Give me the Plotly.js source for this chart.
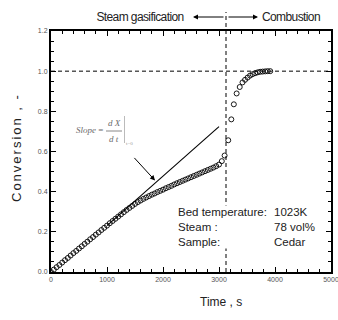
<!DOCTYPE html>
<html>
<head>
<meta charset="utf-8">
<script src="https://cdn.plot.ly/plotly-3.0.1.min.js"></script>
<style>
html,body{margin:0;padding:0;background:#fff;}
#chart{width:338px;height:320px;}
</style>
</head>
<body>
<div id="chart"></div>
<script>
// ---- data ----
const gasTime = [0,50,100,150,200,250,300,350,400,450,500,550,600,650,700,750,800,850,900,950,
  1000,1050,1100,1150,1200,1250,1300,1350,1400,1450,1500,1550,1600,1650,1700,1750,1800,1850,1900,1950,
  2000,2050,2100,2150,2200,2250,2300,2350,2400,2450,2500,2550,2600,2650,2700,2750,2800,2850,2900,2950,
  3000,3050,3100];
const gasConv = [0.000,0.012,0.024,0.035,0.047,0.059,0.070,0.082,0.094,0.105,0.117,0.128,0.140,0.151,0.163,0.174,0.186,0.197,0.209,0.220,
  0.231,0.243,0.254,0.265,0.276,0.287,0.298,0.309,0.319,0.329,0.339,0.348,0.356,0.364,0.371,0.378,0.385,0.391,0.398,0.404,
  0.410,0.417,0.423,0.429,0.436,0.442,0.448,0.454,0.460,0.466,0.472,0.478,0.484,0.490,0.496,0.502,0.508,0.514,0.520,0.527,
  0.535,0.552,0.580];
const combTime = [3165,3220,3265,3315,3370,3420,3465,3510,3555,3600,3645,3690,3735,3780,3825,3870,3915];
const combConv = [0.656,0.760,0.835,0.889,0.921,0.944,0.957,0.968,0.978,0.985,0.990,0.994,0.997,0.998,0.999,1.000,1.000];
const tangentTime = [1000,3000];
const tangentConv = [0.231,0.724];
const switchTime = 3125;      // steam -> combustion switch
const fullConv = 1.0;
const xMax = 5000, yMax = 1.2;
const xTicks = [0,1000,2000,3000,4000,5000];
const yTicks = [0.0,0.2,0.4,0.6,0.8,1.0,1.2];
const conditionLabels = ['Bed temperature:','Steam :','Sample:'];
const conditionValues = ['1023K','78 vol%','Cedar'];

// ---- layout helpers (pixel -> paper) ----
const L=51, R=7, T=31, B=48, W=338, H=320;
const pw=W-L-R, ph=H-T-B;
const px = x => (x-L)/pw;
const py = y => (H-B-y)/ph;

const txt='#222', gray='#6a6a6a';
const sans='"Liberation Sans", Arial, sans-serif';
const serif='"Liberation Serif", "Times New Roman", serif';

const traces = [
  {x: tangentTime, y: tangentConv, mode:'lines', line:{color:'#000', width:1.1}, hoverinfo:'skip'},
  {x: gasTime.concat(combTime), y: gasConv.concat(combConv), mode:'markers',
   marker:{symbol:'circle-open', size:5, color:'#000', line:{width:0.9, color:'#000'}}}
];

const axisCommon = {
  showline:true, linewidth:2, linecolor:'#000', mirror:'ticks',
  ticks:'inside', ticklen:5, tickwidth:1, tickcolor:'#000',
  showgrid:false, zeroline:false, ticklabeloverflow:'allow',
  tickfont:{family:sans, size:7, color:'#555'}
};

function note(x, y, text, font, extra) {
  return Object.assign({xref:'paper', yref:'paper', x:px(x), y:py(y), text:text, showarrow:false,
    xanchor:'center', yanchor:'middle', font:font}, extra||{});
}

const layout = {
  width:W, height:H, margin:{l:L, r:R, t:T, b:B},
  paper_bgcolor:'#fff', plot_bgcolor:'#fff', showlegend:false,
  xaxis: Object.assign({}, axisCommon, {range:[0,xMax], tickvals:xTicks, ticktext:xTicks.map(String),
    minor:{dtick:200, ticklen:3, tickcolor:'#000', ticks:'inside'}}),
  yaxis: Object.assign({}, axisCommon, {range:[0,yMax], tickvals:yTicks, ticktext:yTicks.map(v=>v.toFixed(1)),
    minor:{dtick:0.05, ticklen:3, tickcolor:'#000', ticks:'inside'}}),
  shapes: [
    {type:'line', xref:'paper', yref:'paper', x0:0, x1:1, y0:fullConv/yMax, y1:fullConv/yMax,
     line:{color:'#000', width:1, dash:'4px,3px'}},
    {type:'line', xref:'paper', yref:'paper', x0:switchTime/xMax, x1:switchTime/xMax, y0:0, y1:py(12),
     line:{color:'#000', width:1, dash:'4px,3px'}},
    // fraction bar and evaluation bar of the slope formula
    {type:'line', xref:'paper', yref:'paper', x0:px(106), x1:px(122), y0:py(131), y1:py(131), line:{color:gray, width:0.8}},
    {type:'line', xref:'paper', yref:'paper', x0:px(124.5), x1:px(124.5), y0:py(116), y1:py(143), line:{color:'#aaa', width:0.8}}
  ],
  annotations: [
    note(140, 17, 'Steam gasification', {family:sans, size:12, color:txt}),
    note(291, 17, 'Combustion', {family:sans, size:12, color:txt}),
    {xref:'paper', yref:'paper', x:px(193), y:py(17), ax:32, ay:0, text:'', showarrow:true,
     arrowhead:2, arrowsize:1, arrowwidth:1, arrowcolor:'#000'},
    {xref:'paper', yref:'paper', x:px(258), y:py(17), ax:-31, ay:0, text:'', showarrow:true,
     arrowhead:2, arrowsize:1, arrowwidth:1, arrowcolor:'#000'},
    // conditions block
    {xref:'paper', yref:'paper', x:px(177), y:py(227), xanchor:'left', yanchor:'middle', align:'left',
     text:conditionLabels.join('<br>'), showarrow:false, bgcolor:'#fff', borderpad:0,
     font:{family:sans, size:11.5, color:txt}},
    {xref:'paper', yref:'paper', x:px(272), y:py(227), xanchor:'left', yanchor:'middle', align:'left',
     text:conditionValues.join('<br>'), showarrow:false,
     font:{family:sans, size:11.5, color:txt}},
    // slope formula
    note(89, 130, '<i>Slope</i> =', {family:serif, size:9, color:gray}),
    note(114, 123, '<i>d X</i>', {family:serif, size:9, color:gray}),
    note(114, 139, '<i>d t</i>', {family:serif, size:9, color:gray}),
    note(129, 143, 't=0', {family:serif, size:5, color:'#999'}),
    // arrow to tangent
    {xref:'x', yref:'y', x:1857, y:0.456, ax:-22, ay:-24, text:'', showarrow:true,
     arrowhead:2, arrowsize:1, arrowwidth:1, arrowcolor:'#000'},
    // axis titles
    note(221, 302, 'Time , s', {family:sans, size:12, color:txt}),
    note(16, 148, 'Conversion , -', {family:sans, size:13, color:txt}, {textangle:-90})
  ]
};

Plotly.newPlot('chart', traces, layout, {displayModeBar:false, staticPlot:true}).then(()=>{
  document.querySelectorAll('.annotation-text').forEach(el=>{
    const t = el.textContent;
    if (t.indexOf('Conversion')===0) el.style.letterSpacing='2px';
    if (t==='Steam gasification' || t==='Combustion') el.style.letterSpacing='-0.6px';
  });
});
</script>
</body>
</html>
